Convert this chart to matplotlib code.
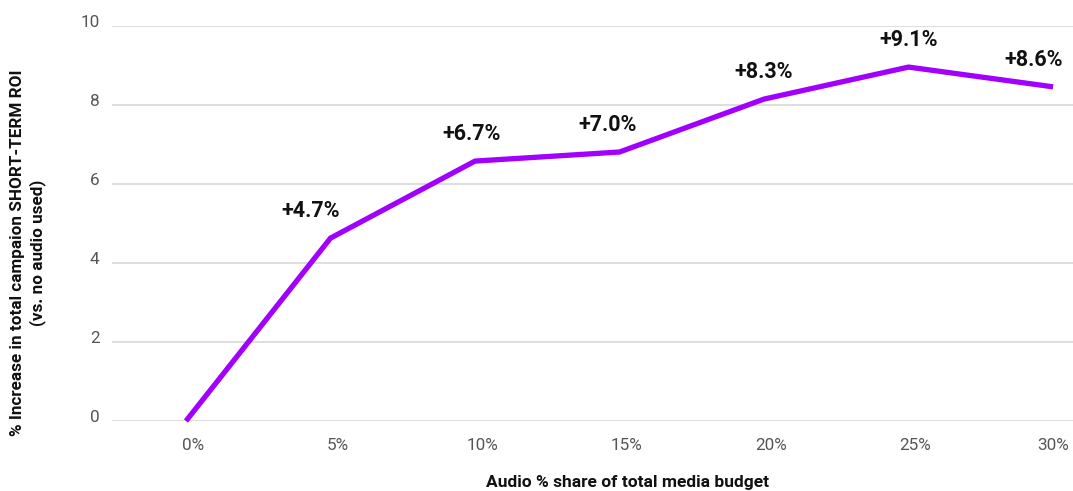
import matplotlib
matplotlib.use("Agg")
import matplotlib.pyplot as plt
import matplotlib.transforms as mtransforms

# Daten
share = [0, 5, 10, 15, 20, 25, 30]
share_labels = ["0%", "5%", "10%", "15%", "20%", "25%", "30%"]
roi_increase = [0, 4.63, 6.58, 6.81, 8.15, 8.96, 8.46]
point_labels = ["+4.7%", "+6.7%", "+7.0%", "+8.3%", "+9.1%", "+8.6%"]
y_ticks = [0, 2, 4, 6, 8, 10]

# horizontale Verschiebung der Beschriftungen (Pixel)
label_dx = [-20, -3, -12, 0, 0, -19]
tick_dx = [7, 7, 7, 7, 7, 7, 0]

plt.rcParams['font.family'] = ['Roboto', 'DejaVu Sans']

purple = "#a100ff"

fig = plt.figure(figsize=(10.73, 4.91), dpi=100)
ax = fig.add_axes([112/1073, 70/491, 961/1073, 395/491])

ax.plot(share, roi_increase, color=purple, lw=3.8, solid_joinstyle='miter',
        solid_capstyle='butt', clip_on=False, zorder=3)

for x, y, txt, dx in zip(share[1:], roi_increase[1:], point_labels, label_dx):
    ax.annotate(txt, (x, y), xytext=(dx * 0.72, 19.5), textcoords='offset points',
                ha='center', va='center', fontsize=15.5, fontweight='bold',
                color='#111111')

ax.set_xlim(-2.56, 30.69)
ax.set_ylim(0, 10)
ax.set_xticks(share)
ax.set_xticklabels(share_labels)
ax.set_yticks(y_ticks)

ax.grid(axis='y', color='#d4d4d4', lw=1.1)
ax.set_axisbelow(True)
for s in ax.spines.values():
    s.set_visible(False)
ax.tick_params(axis='both', length=0, labelsize=12.3, labelcolor='#555555')
ax.tick_params(axis='x', pad=12)
ax.tick_params(axis='y', pad=9)

# y-Beschriftungen etwas über der Linie, x-Beschriftungen etwas nach rechts
shift_y = mtransforms.ScaledTranslation(0, 5/100, fig.dpi_scale_trans)
for lab in ax.get_yticklabels():
    lab.set_transform(lab.get_transform() + shift_y)
for lab, dx in zip(ax.get_xticklabels(), tick_dx):
    shift_x = mtransforms.ScaledTranslation(dx/100, 0, fig.dpi_scale_trans)
    lab.set_transform(lab.get_transform() + shift_x)

fig.text(0.026, 1 - 253/491,
         "% Increase in total campaion SHORT-TERM ROI\n(vs. no audio used)",
         rotation=90, ha='center', va='center', fontsize=12.3,
         fontweight='bold', color='#111111', linespacing=1.25)
fig.text(627/1073, 1 - 482/491, "Audio % share of total media budget",
         ha='center', va='center', fontsize=12.5, fontweight='bold',
         color='#111111')

fig.savefig("out.png", dpi=100)
